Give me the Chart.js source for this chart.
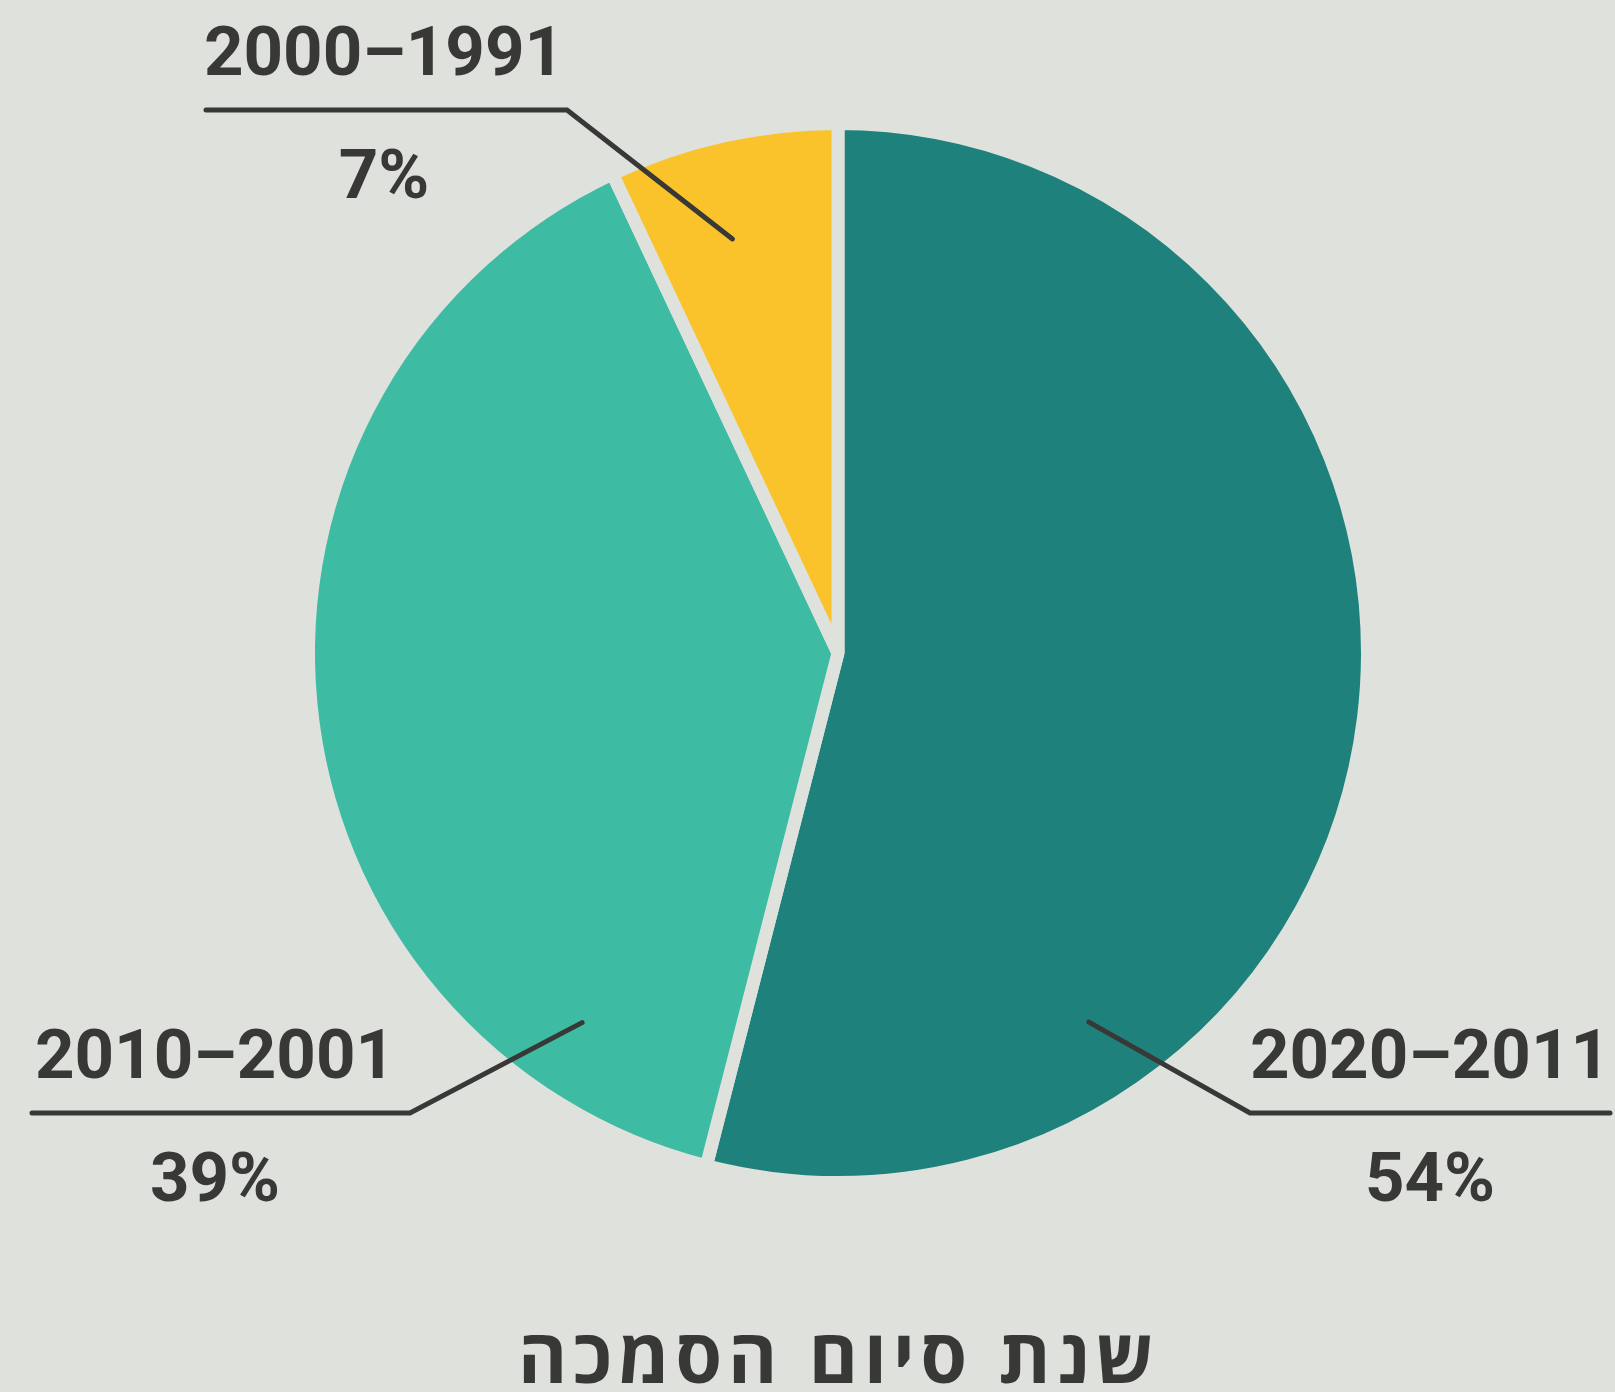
<!DOCTYPE html>
<html lang="he">
<head>
<meta charset="utf-8">
<script src="https://cdn.jsdelivr.net/npm/chart.js@4.4.1/dist/chart.umd.min.js"></script>
<style>
  html, body { margin: 0; padding: 0; background: #dfe2dc; }
  #wrap { width: 1615px; height: 1392px; }
</style>
</head>
<body>
<div id="wrap"><canvas id="c" width="1615" height="1392"></canvas></div>
<script>
// ---- data ----
const categories = ['2020–2011', '2010–2001', '2000–1991'];
const values = [54, 39, 7];
const sliceColors = ['#1e817c', '#3dbba3', '#fac22b'];
const chartTitle = 'שנת סיום הסמכה';

// ---- label layout (positions only) ----
const BG = '#dfe2dc';
const INK = '#383836';
const labelLayout = [
  { angle: 55.8,  frac: 0.843, elbow: [1250, 1113], lineEnd: 1610, textX: 1430, catY: 1078, pctY: 1201 },
  { angle: 124.7, frac: 0.849, elbow: [410, 1113],  lineEnd: 32,   textX: 215,  catY: 1078, pctY: 1201 },
  { angle: 255.7, frac: 0.807, elbow: [567, 110],   lineEnd: 206,  textX: 384,  catY: 75,   pctY: 198 }
];
const titleBox = { cx: 836, baseline: 1383, width: 636 };

const labelPlugin = {
  id: 'leaderLabels',
  afterDraw(chart) {
    const ctx = chart.ctx;
    const meta = chart.getDatasetMeta(0);
    ctx.save();
    meta.data.forEach((arc, i) => {
      const L = labelLayout[i];
      const r = arc.outerRadius * L.frac;
      const a = L.angle * Math.PI / 180;
      const px = arc.x + Math.cos(a) * r;
      const py = arc.y + Math.sin(a) * r;
      ctx.beginPath();
      ctx.moveTo(px, py);
      ctx.lineTo(L.elbow[0], L.elbow[1]);
      ctx.lineTo(L.lineEnd, L.elbow[1]);
      ctx.strokeStyle = INK;
      ctx.lineWidth = 5;
      ctx.lineCap = 'round';
      ctx.lineJoin = 'miter';
      ctx.stroke();

      ctx.fillStyle = INK;
      ctx.textAlign = 'center';
      ctx.textBaseline = 'alphabetic';
      ctx.font = '700 69px Roboto, "Open Sans", sans-serif';
      ctx.fillText(chart.data.labels[i], L.textX, L.catY);
      ctx.fillText(chart.data.datasets[0].data[i] + '%', L.textX, L.pctY);
    });
    // title
    ctx.direction = 'rtl';
    ctx.textAlign = 'left';
    ctx.font = '700 75px "Open Sans", "Liberation Sans", "DejaVu Sans", sans-serif';
    const w = ctx.measureText(chartTitle).width;
    const n = [...chartTitle].length;
    const ls = Math.max(0, (titleBox.width - w) / (n - 1));
    if ('letterSpacing' in ctx) ctx.letterSpacing = ls + 'px';
    ctx.fillText(chartTitle, titleBox.cx - titleBox.width / 2, titleBox.baseline);
    ctx.restore();
  }
};

new Chart(document.getElementById('c'), {
  type: 'pie',
  data: {
    labels: categories,
    datasets: [{
      data: values,
      backgroundColor: sliceColors,
      borderColor: BG,
      borderWidth: 13,
      borderAlign: 'center',
      borderJoinStyle: 'bevel',
      hoverOffset: 0
    }]
  },
  options: {
    responsive: false,
    devicePixelRatio: 1,
    animation: false,
    events: [],
    radius: 529.5,
    layout: { padding: { left: 61, right: 0, top: 0, bottom: 86 } },
    plugins: {
      legend: { display: false },
      tooltip: { enabled: false },
      title: { display: false }
    }
  },
  plugins: [labelPlugin]
});
</script>
</body>
</html>
